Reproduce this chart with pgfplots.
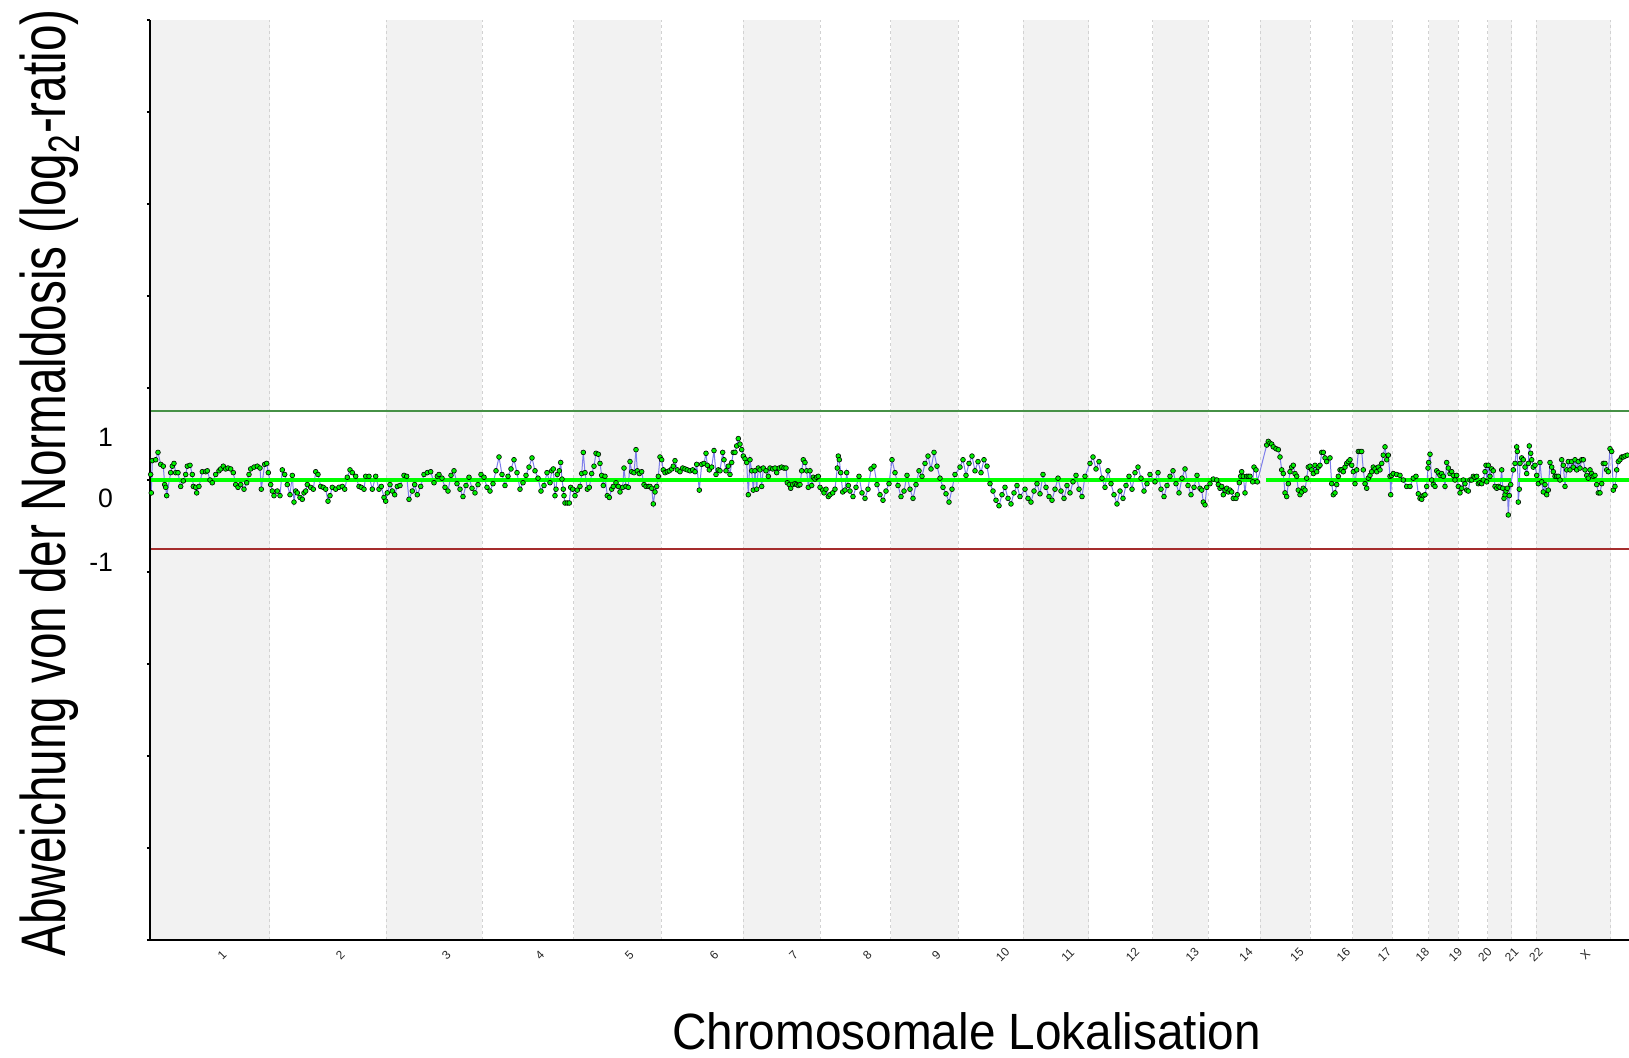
\documentclass[border=0pt]{standalone}
\usepackage{fontspec}
\setmainfont{Liberation Sans}
\newfontfamily\ylabfont{Liberation Sans}[FakeStretch=0.757]
\newfontfamily\xlabfont{Liberation Sans}[FakeStretch=0.936]
\usepackage{pgfplots}
\pgfplotsset{compat=1.18}
\definecolor{band}{HTML}{F2F2F2}
\definecolor{sepc}{HTML}{D2D2D2}
\definecolor{thrgreen}{RGB}{70,145,70}
\definecolor{thrred}{RGB}{165,45,45}
\definecolor{conn}{RGB}{125,125,235}
\definecolor{segg}{RGB}{0,255,0}
\definecolor{ptg}{RGB}{0,240,0}
\begin{document}
\begin{tikzpicture}
\begin{axis}[
  at={(0pt,0pt)}, anchor=south west,
  scale only axis, width=745pt, height=460pt,
  xmin=0, xmax=1490, ymin=-5, ymax=5,
  axis on top,
  axis x line*=bottom, axis y line*=left,
  axis line style={line width=1pt},
  tick align=outside, major tick length=1.5pt,
  tick style={black, line width=0.6pt},
  ytick={-5,...,5}, yticklabels={},
  extra y ticks={0.46,-0.196,-0.90},
  extra y tick labels={1,0,-1},
  extra y tick style={major tick length=0pt},
  yticklabel style={font=\fontsize{13.3pt}{16pt}\selectfont, xshift=-15pt},
  xtick={60,178.3,284.3,377.8,467.3,552,631.5,705.3,774.4,840.7,905.8,970.5,1030.3,1084,1135,1181.3,1222.4,1260.5,1293.4,1322.9,1349.7,1373.8,1423.3,1475},
  xticklabels={1,2,3,4,5,6,7,8,9,10,11,12,13,14,15,16,17,18,19,20,21,22,X,Y},
  xtick style={draw=none},
  xticklabel style={rotate=45, anchor=center, inner sep=0pt, font=\fontsize{6pt}{7pt}\selectfont, text=black!85, yshift=-8.5pt},
  xlabel={{\xlabfont Chromosomale Lokalisation}},
  xlabel style={at={(axis description cs:0.548,-0.119)}, anchor=base, inner sep=0pt, font=\fontsize{25.5pt}{30pt}\selectfont},
  ylabel={{\ylabfont Abweichung von der Normaldosis (log\textsubscript{2}-ratio)}},
  ylabel style={at={(axis description cs:-0.06725,0.4967)}, anchor=center, inner sep=0pt, font=\fontsize{31.5pt}{36pt}\selectfont},
]
% chromosome bands
\fill[band] (0,-5) rectangle (120,5);
\fill[band] (236.5,-5) rectangle (332,5);
\fill[band] (423.5,-5) rectangle (511,5);
\fill[band] (593,-5) rectangle (670,5);
\fill[band] (740.5,-5) rectangle (808.3,5);
\fill[band] (873,-5) rectangle (938.5,5);
\fill[band] (1002.5,-5) rectangle (1058,5);
\fill[band] (1110,-5) rectangle (1160,5);
\fill[band] (1202.5,-5) rectangle (1242.3,5);
\fill[band] (1278.7,-5) rectangle (1308,5);
\fill[band] (1337.7,-5) rectangle (1361.6,5);
\fill[band] (1386,-5) rectangle (1460.6,5);
\pgfplotsinvokeforeach{120,236.5,332,423.5,511,593,670,740.5,808.3,873,938.5,1002.5,1058,1110,1160,1202.5,1242.3,1278.7,1308,1337.7,1361.6,1386,1460.6}{
  \draw[sepc, line width=0.5pt, dash pattern=on 1.5pt off 1.5pt] (#1,-5) -- (#1,5);
}
% thresholds
\addplot[thrgreen, line width=0.7pt, forget plot] coordinates {(0,0.75) (1490,0.75)};
\addplot[thrred, line width=0.7pt, forget plot] coordinates {(0,-0.75) (1490,-0.75)};
% data
\addplot[conn, line width=0.5pt, mark=*, mark size=1.2pt, mark options={fill=ptg, draw=black, line width=0.3pt, solid}] coordinates {
(0.7,.06)(1.3,-.14)(2.3,.21)(5.7,.22)(8,.30)(10.7,.17)(13.3,.15)(14.7,-.05)(15.7,-.08)(16.7,-.17)(20.7,.08)(22.3,.15)(24,.18)(25.7,.08)(28,.08)(30.7,-.07)(33.3,-.01)(35.7,.06)(37.3,.15)(40,.16)(42.3,.06)(43.3,-.07)(45.7,-.08)(46.7,-.14)(49,-.07)(52.3,.09)(55.7,.09)(57.3,.10)(60,0)(62.3,-.03)(65.7,.06)(69,.10)(70.7,.12)(73.3,.15)(75.7,.12)(78,.13)(80.7,.12)(83.3,.08)(85.7,-.05)(88,-.08)(90.7,-.05)(94,-.10)(96.7,-.03)(99,.06)(100.7,.12)(104,.14)(107.3,.15)(110,.13)(111.3,-.10)(114.7,.17)(116.7,.18)(118.3,.08)
(120.7,-.05)(122.3,-.12)(124,-.17)(127.3,-.12)(130,-.17)(132.3,.11)(134.7,.06)(137.3,-.05)(140,-.16)(142.3,.05)(144,-.24)(145.7,-.12)(147.3,-.14)(150,-.19)(152.3,-.21)(154,-.14)(155.7,-.12)(157.3,-.05)(160.7,-.08)(163.3,-.10)(165.7,.09)(168,.06)(170.7,-.07)(173.3,-.08)(175.7,-.10)(178,-.23)(180,-.17)(182.3,-.08)(185.7,-.10)(189,-.08)(192.3,-.07)(194.7,-.10)(197.3,.03)(200,.11)(202.3,.08)(205.7,.04)(209,-.07)(211.3,-.08)(214,-.10)(215.7,.04)(219,.04)(222.3,-.10)(225.7,.04)(229,-.10)(231.3,-.07)(234,-.19)(235.7,-.23)
(237.3,-.14)(240,-.05)(242.3,-.12)(244.7,-.16)(247.3,-.07)(250,-.06)(254,.05)(256.7,.04)(259,-.21)(262.3,-.12)(264.7,-.05)(267.3,-.16)(270.7,-.07)(274,.06)(277.3,.08)(280.7,.09)(284,-.03)(287.3,.04)(289,.06)(292,.02)(295,-.08)(298,-.12)(301,.05)(304,.10)(307,-.04)(310,-.10)(313,-.18)(316,-.06)(319,.03)(322,-.09)(325,-.14)(328,-.05)(331,.06)
(334,.03)(337,-.08)(340,-.12)(343,-.04)(346,.10)(349,.25)(352,.06)(355,-.06)(358,.04)(361,.12)(364,.22)(367,.08)(370,-.10)(373,-.03)(376,.05)(379,.14)(382,.24)(385,.10)(388,.02)(391,-.12)(394,-.06)(397,.08)(400,-.03)(401.7,.10)(403.3,.12)(405,-.17)(406,-.10)(407.3,.06)(409.3,.10)(410.7,.19)(412,.01)(413.3,-.10)(414,-.17)(415,-.25)(417.3,-.25)(419.3,-.25)(420.7,-.08)(422.7,-.10)
(425,-.17)(427.3,-.11)(430,-.07)(431.7,.07)(433.3,.30)(435,.08)(437.3,-.10)(439.3,-.08)(441.7,.07)(444,.15)(446,.29)(448.3,.28)(450,.18)(451.7,.05)(453.3,-.06)(455,.04)(457.3,-.17)(459.3,-.19)(461.7,-.10)(463.3,-.07)(466,-.03)(468.3,-.07)(470,-.13)(472.7,-.08)(474,.13)(476,-.07)(478.3,-.08)(480,.20)(481.7,.09)(484,.08)(486,.33)(487.3,.10)(489.3,.07)(491.7,.09)(494,-.05)(496,-.07)(498.3,-.07)(500,-.07)(501.7,-.09)(503.3,-.26)(505,-.13)(506.7,-.07)(508.3,.04)(510,.25)
(511.7,.22)(513.3,.11)(515,.08)(517.3,.09)(519.3,.10)(521.7,.12)(523.3,.15)(525,.21)(527.3,.11)(530,.09)(532.7,.13)(535,.12)(537.3,.11)(540,.10)(542.7,.11)(545,.09)(546.7,.17)(549.3,-.11)(551.7,.17)(554,.18)(556,.29)(557.3,.16)(559.3,.11)(561.7,.14)(564,.32)(566,.06)(568.3,.11)(570,.10)(572.7,.30)(574,.22)(576,.10)(578.3,.15)(580,.06)(581.7,.19)(583.3,.30)(585,.30)(586.7,.37)(588.3,.45)(590,.39)(591.7,.33)
(593.3,.26)(595,.23)(596.7,.19)(598.3,-.16)(600,.22)(601.7,.10)(603.3,-.11)(605,.10)(606.7,-.10)(608.3,.13)(610,.11)(611.7,-.07)(613.3,.13)(616,.10)(618.3,.04)(620,.13)(622.7,.12)(625,.13)(626.7,.08)(629.3,.13)(631.7,.14)(634,.13)(636,.13)(637.3,-.03)(639.3,-.05)(640.7,-.09)(642.7,-.05)(645,-.04)(646.7,-.05)(648.3,-.06)(650,-.05)(651.7,.10)(653.3,.22)(655,.19)(656.7,.10)(658.3,-.08)(660,.10)(661.7,-.06)(663.3,.03)(665,.01)(666.7,.03)(668.3,.04)
(670,-.08)(672.7,-.11)(674,-.14)(676,-.10)(678.3,-.18)(680,-.16)(682.7,-.14)(685,-.10)(687.3,.13)(688.3,.26)(689.3,.22)(690.7,.08)(692.7,-.13)(695,-.11)(696.7,.08)(698.3,-.06)(700,-.12)(703,-.18)(706,-.08)(709,.04)(712,-.14)(715,-.20)(718,-.10)(721,.12)(724,.15)(727,-.05)(730,-.16)(733,-.22)(736,-.12)(739,-.04)
(742,.22)(745,.08)(748,-.06)(751,-.18)(754,-.12)(757,.05)(760,-.10)(763,-.20)(766,-.05)(769,.10)(772,.04)(775,.18)(778,.26)(781,.12)(784,.30)(787,.15)(790,.02)(793,-.08)(796,-.15)(799,-.24)(802,-.10)(805,.06)
(810,.14)(813,.22)(816,.05)(819,.18)(822,.26)(825,.10)(828,.20)(831,.08)(834,.22)(837,.15)(840,-.04)(843,-.12)(846,-.22)(849,-.28)(852,-.16)(855,-.08)(858,-.20)(861,-.26)(864,-.14)(867,-.06)(870,-.18)
(875,-.10)(878,-.20)(881,-.24)(884,-.12)(887,-.04)(890,-.15)(893,.06)(896,-.08)(899,-.18)(902,-.22)(905,-.10)(908,.02)(911,-.12)(914,-.20)(917,-.06)(920,-.14)(923,-.02)(926,.05)(929,-.10)(932,-.18)(935,.04)
(940,.18)(943,.25)(946,.12)(949,.20)(952,.02)(955,-.08)(958,.10)(961,-.04)(964,-.16)(967,-.26)(970,-.12)(973,-.20)(976,-.06)(979,.04)(982,-.10)(985,.08)(988,.14)(991,.02)(994,-.12)(997,-.04)(1000,.06)
(1005,-.02)(1008,.08)(1011,-.10)(1014,-.18)(1017,-.06)(1020,.04)(1023,.10)(1026,-.04)(1029,-.14)(1032,.02)(1035,.12)(1038,-.06)(1041,-.16)(1044,-.08)(1047,.05)(1050,-.09)(1051.7,-.11)(1053.3,-.24)(1055,-.27)(1056.7,-.08)
(1060,-.04)(1063.3,.01)(1066.7,0)(1068.3,-.05)(1070,-.09)(1071.7,-.07)(1073.3,-.16)(1075,-.11)(1076.7,-.09)(1078.3,-.13)(1080,-.11)(1081.7,-.13)(1083.3,-.20)(1086,-.20)(1087.3,-.16)(1089.3,-.03)(1090.7,.04)(1091.7,.09)(1093.3,.04)(1095,-.14)(1096.7,.04)(1098.3,.04)(1100,.04)(1102.7,-.02)(1104,.14)(1106,.11)(1107.3,-.02)
(1116.7,.38)(1118.3,.42)(1120,.40)(1121.7,.39)(1123.3,.36)(1126,.34)(1128.3,.33)(1130,.25)(1131.7,.11)(1133.3,.07)(1135,-.14)(1136.7,-.18)(1138.3,-.04)(1140,.09)(1141.7,.14)(1143.3,.16)(1145,.07)(1146.7,.04)(1148.3,-.11)(1150,-.16)(1151.7,-.13)(1153.3,-.09)(1155,-.11)(1156.7,.02)(1158.3,.14)
(1160,.15)(1161.7,.11)(1163.3,.07)(1165,.16)(1166.7,.09)(1168.3,.14)(1170,.16)(1171.7,.30)(1173.3,.30)(1175,.24)(1176.7,.20)(1180,.24)(1181.7,-.04)(1183.3,-.16)(1185,-.14)(1186.7,-.05)(1188.3,.04)(1190,.11)(1191.7,.11)(1193.3,.09)(1195,.14)(1196.7,.18)(1198.3,.20)(1200,.22)(1201.7,.16)
(1203.3,.09)(1205,-.04)(1206.7,.11)(1208.3,.31)(1210,.31)(1211.7,.31)(1213.3,.11)(1215,-.04)(1216.7,-.09)(1218.3,.02)(1220,.05)(1221.7,.09)(1223.3,.14)(1225,.12)(1226.7,.09)(1228.3,.14)(1230,.11)(1231.7,.18)(1233.3,.27)(1235,.36)(1236.7,.22)(1238.3,.27)(1240,.04)(1240.7,-.16)
(1241.7,.05)(1243.3,.07)(1246.7,.06)(1250,.05)(1253.3,0)(1256.7,-.07)(1260,-.07)(1263.3,.02)(1266,.04)(1268.3,-.15)(1270,-.20)(1271.7,-.21)(1273.3,-.17)(1275,-.16)(1276.7,-.07)(1278,.13)
(1278.7,.19)(1280,.28)(1281.7,0)(1283.3,-.05)(1285,-.07)(1286.7,.10)(1288.3,.08)(1290,.05)(1291.7,.07)(1293.3,.04)(1295,-.07)(1296.7,.19)(1298.3,.13)(1300,.07)(1301.7,.09)(1303.3,.05)(1305,0)(1306.7,.05)
(1308.3,-.07)(1310,-.14)(1311.7,-.09)(1313.3,0)(1315,-.04)(1316.7,-.11)(1318.3,-.12)(1320,0)(1321.7,0)(1323.3,.04)(1325,.03)(1326.7,.04)(1328.3,-.04)(1330,-.03)(1331.7,-.04)(1333.3,0)(1335,.09)(1336,.16)(1336.7,-.02)
(1338.3,.16)(1340,.04)(1341.7,.12)(1343.3,.10)(1345,-.07)(1346.7,-.09)(1348.3,-.07)(1350,-.08)(1351.7,.11)(1352.7,-.09)(1354,-.20)(1355,-.16)(1356,-.12)(1357.3,-.09)(1358.3,-.38)(1359.3,-.17)(1360.7,-.05)
(1363.3,.11)(1365,.18)(1366.7,.36)(1367.3,.31)(1368.3,-.24)(1369.3,-.10)(1370,.18)(1371.7,.24)(1373.3,.22)(1375,.14)(1376.7,.07)(1378.3,.18)(1379.3,.37)(1380.7,.29)(1381.7,.22)(1383.3,.14)(1385,.16)
(1386.7,.05)(1388.3,-.04)(1390,.19)(1391.7,-.02)(1393.3,-.13)(1395,-.05)(1396.7,-.16)(1398.3,-.11)(1400,.19)(1401.7,.14)(1403.3,.09)(1405,.04)(1406.7,.04)(1408.3,.04)(1410,0)(1411.7,.22)(1413.3,.16)(1415,-.07)(1416.7,.11)(1418.3,.20)(1420,.11)(1421.7,.20)(1423.3,.14)(1425,.22)(1426.7,.11)(1428.3,.20)(1430,.13)(1431.7,.22)(1433.3,.22)(1435,.11)(1436.7,.05)(1438.3,.02)(1440,.11)(1441.7,.07)(1443.3,.04)(1445,.05)(1446.7,-.05)(1448.3,-.14)(1450,-.14)(1451.7,-.04)(1453.3,.18)(1455,.18)(1456.7,.11)(1458.3,.09)(1460,.34)
(1461.7,.31)(1463.3,-.11)(1465,-.07)(1466.7,.11)(1468.3,.20)(1470,.22)(1471.7,.25)(1473.3,.25)(1475,.26)(1477.3,.27)(1482,.30)
};
% segmentation line
\addplot[segg, line width=2.3pt] coordinates {(0,0) (1108,0)};
\addplot[segg, line width=2.3pt] coordinates {(1116,0) (1361,0)};
\addplot[segg, line width=2.3pt] coordinates {(1368,0) (1490,0)};
\end{axis}
\pgfresetboundingbox
\useasboundingbox (-75pt,-59pt) rectangle (739.5pt,470pt);
\end{tikzpicture}
\end{document}
